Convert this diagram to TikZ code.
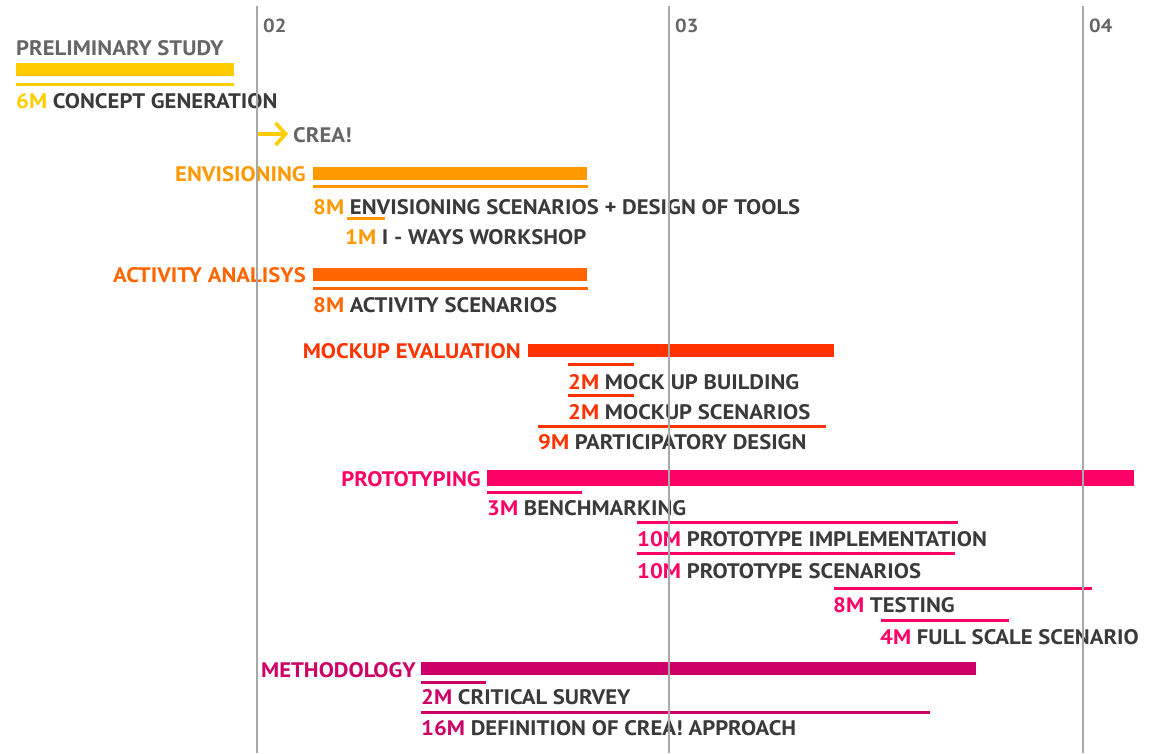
\documentclass[tikz,border=0pt]{standalone}
\usepackage{fontspec}
\setmainfont{PT Sans}[FakeStretch=1.08]
\usetikzlibrary{arrows.meta}
\definecolor{cYel}{HTML}{FFCC00}
\definecolor{cEnv}{HTML}{FF9900}
\definecolor{cAct}{HTML}{FF6600}
\definecolor{cMock}{HTML}{FF3300}
\definecolor{cProt}{HTML}{FF0066}
\definecolor{cMeth}{HTML}{CC0066}
\definecolor{cTxt}{HTML}{3A3A3A}
\definecolor{cGray}{HTML}{666666}
\definecolor{cGrid}{HTML}{A8A8A8}
\begin{document}
\begin{tikzpicture}[x=1pt,y=-1pt,
  lbl/.style={font=\fontsize{21}{21}\selectfont\bfseries, inner sep=0pt, anchor=base west, text=cTxt},
  phase/.style={lbl, anchor=base east},
  gridline/.style={cGrid, line width=1.5pt},
  thin/.style={line width=3pt},
  yearlbl/.style={font=\fontsize{19}{19}\selectfont\bfseries, inner sep=0pt, anchor=base west, text=cGray}]
\useasboundingbox (0,0) rectangle (1152,753);
\fill[white] (0,0) rectangle (1152,753);

% PRELIMINARY STUDY
\node[lbl, text=cGray] (prelim) at (16,55) {PRELIMINARY STUDY};
\fill[cYel] (16,63) rectangle (234,76);
\draw[cYel, thin] (16,84) -- (234,84);
\node[lbl] (concept) at (16,108) {\textcolor{cYel}{6M} CONCEPT GENERATION};
\coordinate (arrS) at (258,134);
\coordinate (arrE) at (288,134);
\node[lbl, text=cGray] (crea) at (293,142) {CREA!};
\draw[cYel, line width=3.5pt, -{Straight Barb[length=10pt,width=22pt]}] (arrS) -- (arrE);

% ENVISIONING
\node[phase, text=cEnv] (env) at (306,181) {ENVISIONING};
\fill[cEnv] (313,167) rectangle (587,180);
\draw[cEnv, thin] (313,186) -- (588,186);
\node[lbl] (env1) at (313,214) {\textcolor{cEnv}{8M} ENVISIONING SCENARIOS + DESIGN OF TOOLS};
\draw[cEnv, thin] (347,218) -- (385,218);
\node[lbl] (env2) at (345,244) {\textcolor{cEnv}{1M} I - WAYS WORKSHOP};

% ACTIVITY ANALISYS
\node[phase, text=cAct] (act) at (306,282) {ACTIVITY ANALISYS};
\fill[cAct] (313,268) rectangle (587,281);
\draw[cAct, thin] (313,288) -- (588,288);
\node[lbl] (act1) at (313,312) {\textcolor{cAct}{8M} ACTIVITY SCENARIOS};

% MOCKUP EVALUATION
\node[phase, text=cMock] (mock) at (521,358) {MOCKUP EVALUATION};
\fill[cMock] (528,344) rectangle (834,357);
\draw[cMock, thin] (568,364) -- (634,364);
\node[lbl] (mock1) at (568,389) {\textcolor{cMock}{2M} MOCK UP BUILDING};
\draw[cMock, thin] (568,395) -- (634,395);
\node[lbl] (mock2) at (568,419) {\textcolor{cMock}{2M} MOCKUP SCENARIOS};
\draw[cMock, thin] (538,426) -- (826,426);
\node[lbl] (mock3) at (538,449) {\textcolor{cMock}{9M} PARTICIPATORY DESIGN};

% PROTOTYPING
\node[phase, text=cProt] (prot) at (481,486) {PROTOTYPING};
\fill[cProt] (487,470) rectangle (1134,486);
\draw[cProt, thin] (487,492) -- (582,492);
\node[lbl] (prot1) at (487,515) {\textcolor{cProt}{3M} BENCHMARKING};
\draw[cProt, thin] (637,522) -- (958,522);
\node[lbl] (prot2) at (637,546) {\textcolor{cProt}{10M} PROTOTYPE IMPLEMENTATION};
\draw[cProt, thin] (637,553) -- (955,553);
\node[lbl] (prot3) at (637,578) {\textcolor{cProt}{10M} PROTOTYPE SCENARIOS};
\draw[cProt, thin] (834,588) -- (1092,588);
\node[lbl] (prot4) at (833,612) {\textcolor{cProt}{8M} TESTING};
\draw[cProt, thin] (881,620) -- (1009,620);
\node[lbl] (prot5) at (880,644) {\textcolor{cProt}{4M} FULL SCALE SCENARIO};

% METHODOLOGY
\node[phase, text=cMeth] (meth) at (416,677) {METHODOLOGY};
\fill[cMeth] (421,662) rectangle (976,675);
\draw[cMeth, thin] (421,682) -- (486,682);
\node[lbl] (meth1) at (421,704) {\textcolor{cMeth}{2M} CRITICAL SURVEY};
\draw[cMeth, thin] (421,712) -- (930,712);
\node[lbl] (meth2) at (421,735) {\textcolor{cMeth}{16M} DEFINITION OF CREA! APPROACH};

% Year grid
\draw[gridline] (257,6) -- (257,753);
\draw[gridline] (669,6) -- (669,753);
\draw[gridline] (1083,6) -- (1083,753);
\node[yearlbl] (y02) at (263,32) {02};
\node[yearlbl] (y03) at (675,32) {03};
\node[yearlbl] (y04) at (1089,32) {04};
\end{tikzpicture}
\end{document}
